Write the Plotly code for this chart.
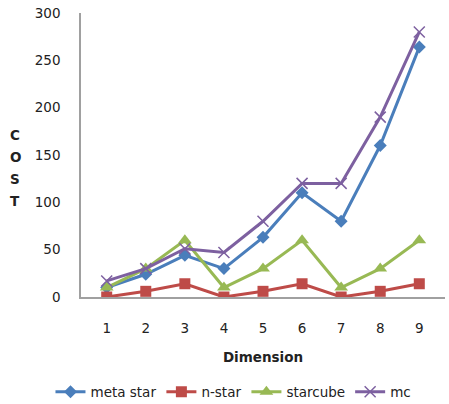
import plotly.graph_objects as go

dimensions = ["1", "2", "3", "4", "5", "6", "7", "8", "9"]
meta_star = [10, 24, 44, 30, 63, 110, 80, 160, 264]
n_star = [0, 6, 14, 0, 6, 14, 0, 6, 14]
starcube = [10, 30, 60, 10, 30, 60, 10, 30, 60]
mc = [17, 30, 51, 47, 80, 120, 120, 190, 280]
y_ticks = [0, 50, 100, 150, 200, 250, 300]

FONT = "DejaVu Sans"
FS = 13.5

series = [
    ("meta star", meta_star, "#4A7EBB", dict(symbol="diamond", size=10)),
    ("n-star", n_star, "#BE4B48", dict(symbol="square", size=11)),
    ("starcube", starcube, "#98B954", dict(symbol="triangle-up", size=12)),
    ("mc", mc, "#7D60A0", dict(symbol="x-thin", size=11, line=dict(width=1.5, color="#7D60A0"))),
]

fig = go.Figure()
for name, vals, color, marker in series:
    m = dict(color=color, **marker)
    fig.add_trace(go.Scatter(
        x=dimensions, y=vals, name=name, mode="lines+markers",
        line=dict(color=color, width=3), marker=m,
    ))

fig.update_layout(
    width=449, height=404,
    margin=dict(l=81, r=4, t=13, b=107, autoexpand=False),
    paper_bgcolor="white", plot_bgcolor="white",
    font=dict(family=FONT, size=FS, color="#222"),
    showlegend=True,
    legend=dict(orientation="h", xref="container", yref="container",
                x=0.52, xanchor="center", y=1 - 392 / 404, yanchor="middle",
                font=dict(size=FS), tracegroupgap=0),
    xaxis=dict(type="category", showgrid=False, showline=True, linecolor="#A0A0A0",
               linewidth=1.5, ticks="", ticklabelstandoff=18, zeroline=False,
               automargin=False,
               title=dict(text="<b>Dimension</b>", font=dict(size=FS), standoff=18)),
    yaxis=dict(range=[0, 300], tickvals=y_ticks, showgrid=False, showline=True,
               linecolor="#A0A0A0", linewidth=1.5, ticks="", ticklabelstandoff=16,
               zeroline=False, automargin=False),
)

for i, ch in enumerate("COST"):
    fig.add_annotation(text=f"<b>{ch}</b>", xref="paper", yref="paper",
                       x=-0.181, y=(297 - 122 - 22 * i - 13) / 284,
                       xanchor="center", yanchor="middle", showarrow=False,
                       font=dict(size=FS))

fig.write_html("out.html")
